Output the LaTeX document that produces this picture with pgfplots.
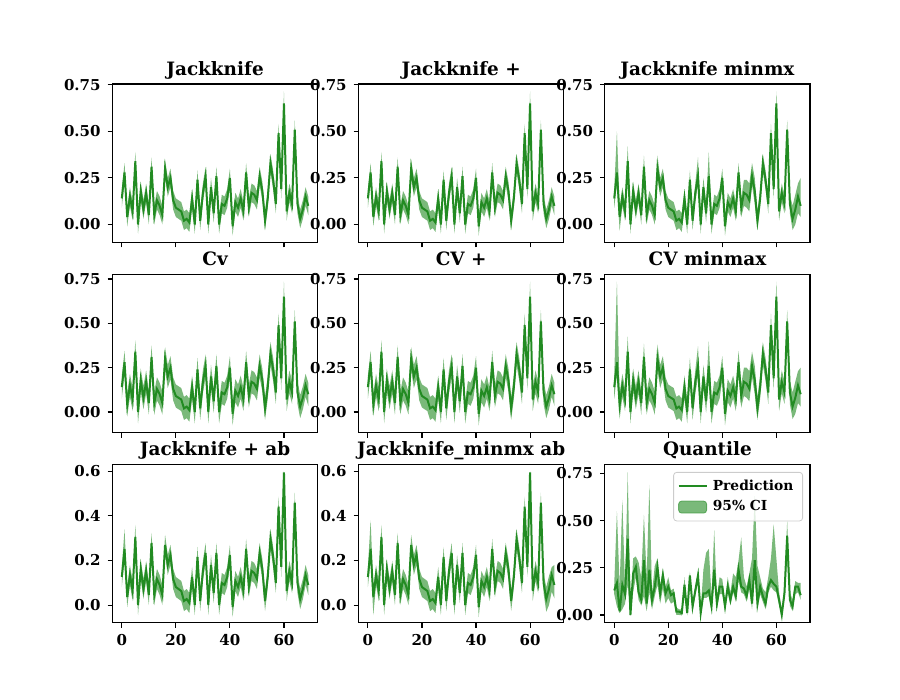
\documentclass[border=0pt]{standalone}
\usepackage{pgfplots}
\pgfplotsset{compat=1.18}
\usepackage{pgfplotstable}
\usepgfplotslibrary{fillbetween}
\usepackage{fontspec}
\setmainfont{DejaVu Serif}
\definecolor{fg}{RGB}{34,139,34}

\pgfplotstableread{
x  p     l1     h1    l2     h2    l3     h3    l6     h6    pb     lb     hb    l8     h8    pq    lq     hq
0  0.14  0.09   0.19  0.075  0.205 0.09   0.19  0.075  0.205 0.126  0.081  0.171 0.081  0.171 0.13  0.11   0.16
1  0.28  0.23   0.33  0.215  0.345 0.22   0.50  0.21   0.735 0.252  0.207  0.34  0.207  0.38  0.17  0.045  0.55
2  0.04  -0.01  0.09  -0.025 0.105 -0.035 0.09  -0.04  0.105 0.036  -0.009 0.081 -0.045 0.081 0.02  0.01   0.15
3  0.15  0.10   0.20  0.085  0.215 0.10   0.20  0.085  0.215 0.135  0.09   0.18  0.09   0.18  0.16  0.03   0.61
4  0.07  0.02   0.12  0.005  0.135 0.02   0.12  0.005  0.135 0.063  0.018  0.108 0.018  0.108 0.11  0.06   0.15
5  0.34  0.29   0.39  0.275  0.405 0.29   0.42  0.275  0.425 0.306  0.261  0.36  0.261  0.36  0.405 0.16   0.757
6  0.00  -0.05  0.05  -0.065 0.065 -0.05  0.05  -0.065 0.065 0.0    -0.045 0.045 -0.045 0.045 0.0   -0.005 0.03
7  0.18  0.13   0.23  0.115  0.245 0.13   0.23  0.115  0.245 0.162  0.117  0.207 0.117  0.207 0.22  0.12   0.30
8  0.08  0.03   0.13  0.015  0.145 0.03   0.13  0.015  0.145 0.072  0.027  0.117 0.027  0.117 0.255 0.20   0.31
9  0.17  0.12   0.22  0.105  0.235 0.12   0.22  0.105  0.235 0.153  0.108  0.198 0.108  0.198 0.12  0.08   0.28
10 0.05  0.00   0.10  -0.015 0.115 0.00   0.10  -0.015 0.115 0.045  0.0    0.09  0.0    0.09  0.08  0.05   0.20
11 0.31  0.26   0.36  0.245  0.375 0.26   0.37  0.245  0.385 0.279  0.234  0.324 0.234  0.324 0.29  0.10   0.53
12 0.05  0.00   0.10  -0.015 0.115 0.00   0.10  -0.015 0.115 0.045  0.0    0.09  0.0    0.09  0.06  0.02   0.20
13 0.13  0.08   0.18  0.065  0.195 0.08   0.18  0.065  0.195 0.117  0.072  0.162 0.072  0.162 0.24  0.12   0.69
14 0.10  0.05   0.15  0.035  0.165 0.05   0.15  0.035  0.165 0.09   0.045  0.135 0.045  0.135 0.08  0.03   0.12
15 0.05  0.00   0.10  -0.015 0.115 0.00   0.10  -0.015 0.115 0.045  0.0    0.09  0.0    0.09  0.15  0.10   0.26
16 0.30  0.25   0.35  0.235  0.365 0.25   0.37  0.235  0.38  0.27   0.225  0.315 0.225  0.315 0.255 0.16   0.30
17 0.20  0.15   0.25  0.135  0.265 0.15   0.25  0.135  0.265 0.18   0.135  0.225 0.135  0.225 0.115 0.06   0.15
18 0.25  0.20   0.30  0.185  0.315 0.20   0.30  0.185  0.315 0.225  0.18   0.27  0.18   0.27  0.21  0.14   0.25
19 0.13  0.08   0.18  0.065  0.195 0.08   0.18  0.065  0.195 0.117  0.072  0.162 0.072  0.162 0.115 0.06   0.15
20 0.09  0.04   0.14  0.025  0.155 0.04   0.14  0.025  0.155 0.081  0.036  0.126 0.036  0.126 0.15  0.09   0.20
21 0.08  0.03   0.13  0.015  0.145 0.03   0.13  0.015  0.145 0.072  0.027  0.117 0.027  0.117 0.105 0.06   0.13
22 0.07  0.02   0.12  0.005  0.135 0.02   0.12  0.005  0.135 0.063  0.018  0.108 0.018  0.108 0.115 0.07   0.14
23 0.02  -0.03  0.07  -0.045 0.085 -0.03  0.07  -0.045 0.085 0.018  -0.027 0.063 -0.027 0.063 0.018 0.0    0.04
24 0.03  -0.02  0.08  -0.035 0.095 -0.02  0.08  -0.035 0.095 0.027  -0.018 0.072 -0.018 0.072 0.018 0.0    0.03
25 0.01  -0.04  0.06  -0.055 0.075 -0.04  0.06  -0.055 0.075 0.009  -0.036 0.054 -0.036 0.054 0.01  -0.002 0.03
26 0.14  0.09   0.19  0.075  0.205 0.09   0.19  0.075  0.205 0.126  0.081  0.171 0.081  0.171 0.16  0.12   0.20
27 0.00  -0.05  0.05  -0.065 0.065 -0.05  0.05  -0.065 0.065 0.0    -0.045 0.045 -0.045 0.045 0.01  -0.003 0.02
28 0.24  0.19   0.29  0.175  0.305 0.19   0.29  0.175  0.305 0.216  0.171  0.261 0.171  0.261 0.21  0.17   0.23
29 0.02  -0.03  0.07  -0.045 0.085 -0.03  0.07  -0.045 0.085 0.018  -0.027 0.063 -0.027 0.063 0.045 0.02   0.06
30 0.17  0.12   0.22  0.105  0.235 0.12   0.22  0.105  0.235 0.153  0.108  0.198 0.108  0.198 0.13  0.10   0.15
31 0.26  0.21   0.31  0.195  0.325 0.21   0.36  0.195  0.37  0.234  0.189  0.279 0.189  0.279 0.21  0.17   0.23
32 0.00  -0.05  0.05  -0.065 0.065 -0.05  0.05  -0.065 0.065 0.0    -0.045 0.045 -0.045 0.045 0.01  -0.004 0.03
33 0.20  0.15   0.25  0.135  0.265 0.15   0.25  0.135  0.265 0.18   0.135  0.225 0.135  0.225 0.115 0.09   0.24
34 0.06  0.01   0.11  -0.005 0.125 0.01   0.11  -0.005 0.125 0.054  0.009  0.099 0.009  0.099 0.115 0.09   0.33
35 0.26  0.21   0.31  0.195  0.325 0.21   0.39  0.195  0.40  0.234  0.189  0.279 0.189  0.279 0.13  0.10   0.35
36 0.00  -0.05  0.05  -0.065 0.065 -0.05  0.05  -0.065 0.065 0.0    -0.045 0.045 -0.045 0.045 0.045 0.02   0.10
37 0.11  0.06   0.16  0.045  0.175 0.06   0.16  0.045  0.175 0.099  0.054  0.144 0.054  0.144 0.24  0.19   0.45
38 0.10  0.05   0.15  0.035  0.165 0.05   0.15  0.035  0.165 0.09   0.045  0.135 0.045  0.135 0.06  0.03   0.10
39 0.14  0.09   0.19  0.075  0.205 0.09   0.19  0.075  0.205 0.126  0.081  0.171 0.081  0.171 0.15  0.11   0.20
40 0.25  0.20   0.30  0.185  0.315 0.20   0.30  0.185  0.315 0.225  0.18   0.27  0.18   0.27  0.15  0.11   0.19
41 -0.01 -0.06  0.04  -0.075 0.055 -0.06  0.04  -0.075 0.055 -0.009 -0.054 0.036 -0.054 0.036 0.045 0.02   0.07
42 0.12  0.07   0.17  0.055  0.185 0.07   0.17  0.055  0.185 0.108  0.063  0.153 0.063  0.153 0.15  0.12   0.20
43 0.09  0.04   0.14  0.025  0.155 0.04   0.14  0.025  0.155 0.081  0.036  0.126 0.036  0.126 0.08  0.05   0.12
44 0.14  0.09   0.19  0.075  0.205 0.09   0.19  0.075  0.205 0.126  0.081  0.171 0.081  0.171 0.15  0.12   0.22
45 0.07  0.02   0.12  0.005  0.135 0.02   0.12  0.005  0.135 0.063  0.018  0.108 0.018  0.108 0.10  0.07   0.20
46 0.28  0.23   0.33  0.215  0.345 0.23   0.33  0.215  0.345 0.252  0.207  0.297 0.207  0.297 0.24  0.18   0.29
47 0.09  0.04   0.14  0.025  0.155 0.04   0.14  0.025  0.155 0.081  0.036  0.126 0.036  0.126 0.15  0.12   0.41
48 0.17  0.12   0.22  0.105  0.235 0.10   0.24  0.09   0.25  0.153  0.108  0.198 0.108  0.198 0.14  0.11   0.20
49 0.16  0.11   0.21  0.095  0.225 0.09   0.24  0.08   0.25  0.144  0.099  0.189 0.099  0.189 0.10  0.07   0.15
50 0.13  0.08   0.18  0.065  0.195 0.07   0.22  0.06   0.23  0.117  0.072  0.162 0.072  0.162 0.185 0.14   0.22
51 0.26  0.21   0.31  0.195  0.325 0.21   0.33  0.195  0.34  0.234  0.189  0.279 0.189  0.279 0.06  0.03   0.30
52 0.18  0.13   0.23  0.115  0.245 0.11   0.25  0.10   0.26  0.162  0.117  0.207 0.117  0.207 0.29  0.22   0.63
53 0.02  -0.03  0.07  -0.045 0.085 -0.03  0.07  -0.045 0.085 0.018  -0.027 0.063 -0.027 0.063 0.06  0.03   0.26
54 0.14  0.09   0.19  0.075  0.205 0.09   0.19  0.075  0.205 0.126  0.081  0.171 0.081  0.171 0.15  0.11   0.20
55 0.33  0.28   0.38  0.265  0.395 0.28   0.38  0.265  0.395 0.297  0.252  0.342 0.252  0.342 0.10  0.07   0.14
56 0.24  0.19   0.29  0.175  0.305 0.19   0.29  0.175  0.305 0.216  0.171  0.261 0.171  0.261 0.06  0.03   0.12
57 0.11  0.06   0.16  0.045  0.175 0.06   0.16  0.045  0.175 0.099  0.054  0.144 0.054  0.144 0.15  0.12   0.20
58 0.49  0.44   0.54  0.425  0.555 0.44   0.54  0.425  0.555 0.441  0.396  0.486 0.396  0.486 0.185 0.15   0.30
59 0.19  0.14   0.24  0.125  0.255 0.14   0.24  0.125  0.255 0.171  0.126  0.216 0.126  0.216 0.165 0.13   0.48
60 0.65  0.60   0.715 0.585  0.735 0.60   0.715 0.585  0.735 0.595  0.55   0.60  0.55   0.60  0.15  0.12   0.30
61 0.07  0.02   0.12  0.005  0.135 0.02   0.12  0.005  0.135 0.063  0.018  0.108 0.018  0.108 0.08  0.05   0.12
62 0.17  0.12   0.22  0.105  0.235 0.12   0.22  0.105  0.235 0.153  0.108  0.198 0.108  0.198 0.0   -0.004 0.03
63 0.11  0.06   0.16  0.045  0.175 0.06   0.16  0.045  0.175 0.099  0.054  0.144 0.054  0.144 0.115 0.09   0.16
64 0.51  0.46   0.56  0.445  0.575 0.46   0.56  0.445  0.575 0.459  0.414  0.504 0.414  0.504 0.42  0.30   0.50
65 0.11  0.06   0.16  0.045  0.175 0.06   0.16  0.045  0.175 0.099  0.054  0.144 0.054  0.144 0.08  0.05   0.12
66 0.03  -0.02  0.08  -0.035 0.095 -0.03  0.10  -0.04  0.11  0.027  -0.018 0.072 -0.03  0.08  0.045 0.02   0.08
67 0.08  0.03   0.13  0.015  0.145 0.0    0.16  -0.01  0.17  0.072  0.027  0.117 0.0    0.13  0.15  0.11   0.18
68 0.15  0.10   0.20  0.085  0.215 0.06   0.22  0.05   0.23  0.135  0.09   0.18  0.06   0.17  0.15  0.12   0.17
69 0.10  0.05   0.15  0.035  0.165 0.04   0.25  0.03   0.25  0.09   0.045  0.135 0.03   0.18  0.105 0.08   0.17
}\data

\pgfplotsset{
  panel/.style={
    scale only axis, width=102.55pt, height=79.25pt,
    xmin=-3.45, xmax=72.45, xtick={0,20,40,60},
    axis line style={line width=0.55pt},
    tick style={line width=0.55pt, black},
    tick align=outside, tick pos=left, major tick length=2.45pt,
    /pgf/number format/assume math mode=true,
    tick label style={font=\bfseries\fontsize{7.5}{9}\selectfont},
    every axis title/.style={font=\bfseries\fontsize{9.2}{11}\selectfont, at={(0.5,1)}, anchor=base, yshift=4.2pt, inner sep=0pt},
  },
  toprow/.style={xticklabels={}},
  yA/.style={ytick={0,0.25,0.5,0.75}, yticklabel style={/pgf/number format/fixed, /pgf/number format/fixed zerofill, /pgf/number format/precision=2}},
  yB/.style={ytick={0,0.2,0.4,0.6}, yticklabel style={/pgf/number format/fixed, /pgf/number format/fixed zerofill, /pgf/number format/precision=1}},
}

\newcommand{\band}[3]{%
  \addplot[name path=U, draw=none, forget plot] table[x=x, y=#2]{\data};
  \addplot[name path=L, draw=none, forget plot] table[x=x, y=#1]{\data};
  \addplot[fill=fg, fill opacity=0.6, draw=none, forget plot] fill between[of=U and L];
  \addplot[fg, line width=1pt, forget plot] table[x=x, y=#3]{\data};
}

\begin{document}
\begin{tikzpicture}
\path (0,0) rectangle (450pt,350pt);

\begin{axis}[panel, toprow, yA, at={(56.25pt,308pt)}, anchor=north west, ymin=-0.097, ymax=0.755, title={Jackknife}]
\band{l1}{h1}{p}
\end{axis}
\begin{axis}[panel, toprow, yA, at={(179.3pt,308pt)}, anchor=north west, ymin=-0.097, ymax=0.755, title={Jackknife +}]
\band{l1}{h1}{p}
\end{axis}
\begin{axis}[panel, toprow, yA, at={(302.45pt,308pt)}, anchor=north west, ymin=-0.097, ymax=0.755, title={Jackknife minmx}]
\band{l3}{h3}{p}
\end{axis}

\begin{axis}[panel, toprow, yA, at={(56.25pt,212.9pt)}, anchor=north west, ymin=-0.117, ymax=0.777, title={Cv}]
\band{l2}{h2}{p}
\end{axis}
\begin{axis}[panel, toprow, yA, at={(179.3pt,212.9pt)}, anchor=north west, ymin=-0.117, ymax=0.777, title={CV +}]
\band{l2}{h2}{p}
\end{axis}
\begin{axis}[panel, toprow, yA, at={(302.45pt,212.9pt)}, anchor=north west, ymin=-0.117, ymax=0.777, title={CV minmax}]
\band{l6}{h6}{p}
\end{axis}

\begin{axis}[panel, yB, at={(56.25pt,117.8pt)}, anchor=north west, ymin=-0.08, ymax=0.631, title={Jackknife + ab}]
\band{lb}{hb}{pb}
\end{axis}
\begin{axis}[panel, yB, at={(179.3pt,117.8pt)}, anchor=north west, ymin=-0.08, ymax=0.631, title={Jackknife\_minmx ab}]
\band{l8}{h8}{pb}
\end{axis}
\begin{axis}[panel, yA, at={(302.45pt,117.8pt)}, anchor=north west, ymin=-0.042, ymax=0.798, title={Quantile},
  legend style={at={(1,1)}, anchor=north east, xshift=-3.5pt, yshift=-3.8pt,
    draw={rgb,255:red,204;green,204;blue,204}, rounded corners=1.5pt, fill=white, fill opacity=0.8, text opacity=1,
    font=\bfseries\fontsize{6.9}{8}\selectfont, inner sep=2pt, row sep=0.5pt,
    nodes={inner xsep=2.6pt, inner ysep=1.6pt}},
  legend cell align=left]
\band{lq}{hq}{pq}
\addlegendimage{legend image code/.code={\draw[fg, line width=1pt] (0pt,0pt) -- (14pt,0pt);}}
\addlegendentry{Prediction}
\addlegendimage{legend image code/.code={\draw[fill=fg, fill opacity=0.6, draw=fg, draw opacity=0.6] (0pt,-3pt) rectangle (14pt,3pt);}}
\addlegendentry{95\% CI}
\end{axis}
\end{tikzpicture}
\end{document}
